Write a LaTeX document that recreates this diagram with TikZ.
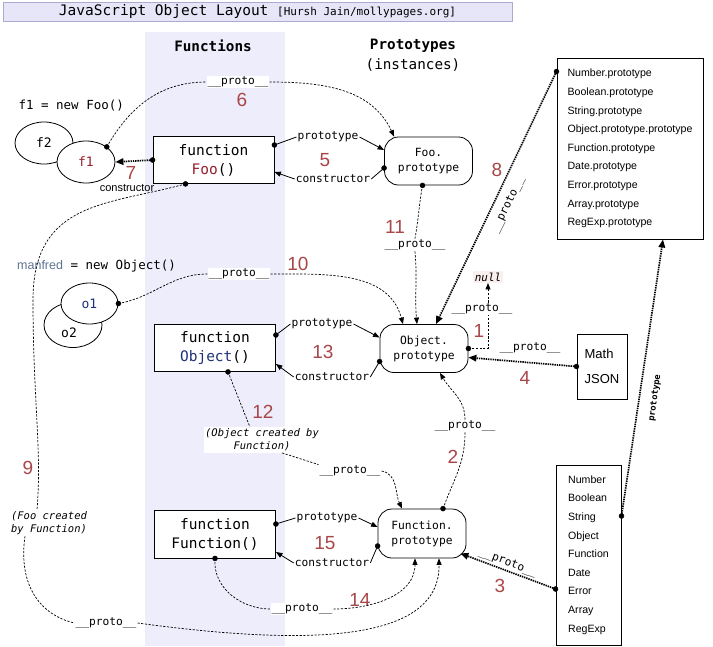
\documentclass[tikz,border=0pt]{standalone}
\usepackage{fontspec}
\setmainfont{Liberation Sans}
\setsansfont{Liberation Sans}
\setmonofont{DejaVu Sans Mono}
\usepackage{tikz}
\usetikzlibrary{arrows.meta}
\usetikzlibrary{shapes.geometric}

\definecolor{numred}{RGB}{168,70,72}
\definecolor{fooRed}{RGB}{150,30,45}
\definecolor{objBlue}{RGB}{30,50,120}
\definecolor{manfred}{RGB}{95,115,145}
\definecolor{colbg}{RGB}{237,237,251}
\definecolor{titlebg}{RGB}{230,230,248}
\definecolor{titleline}{RGB}{170,170,210}
\definecolor{nullbg}{RGB}{250,238,238}

\newcommand{\fsz}[2]{\fontsize{#1}{#2}\selectfont}
\newcommand{\proto}{\_\_proto\_\_}

\begin{document}
\begin{tikzpicture}[>={Triangle[length=6.5pt,width=5pt]},x=1pt,y=1pt,
  fnbox/.style={draw,fill=white,line width=0.8pt,minimum width=121pt,minimum height=47pt,align=center,font=\ttfamily\fsz{14.5}{19}},
  protobox/.style={draw,fill=white,line width=0.8pt,rounded corners=14pt,minimum width=88pt,minimum height=48pt,align=center,font=\ttfamily\fsz{11.3}{15}},
  listbox/.style={draw,fill=white,line width=1pt,align=left,font=\sffamily\fsz{10.6}{18.6}},
  obj/.style={ellipse,draw,fill=white,line width=0.8pt,minimum width=58pt,minimum height=42pt,inner sep=0pt,font=\ttfamily\fsz{13}{13}},
  lab/.style={fill=white,inner sep=1pt,font=\ttfamily\fsz{11.2}{13}},
  note/.style={fill=white,inner sep=1.5pt,align=center,font=\ttfamily\itshape\fsz{10.5}{13}},
  num/.style={text=numred,font=\sffamily\fsz{19}{19}},
  link/.style={line width=0.7pt,dash pattern=on 2.2pt off 1.5pt},
  heavy/.style={line width=1.7pt,dash pattern=on 1.4pt off 0.9pt,>={Triangle[length=8pt,width=6.5pt]}},
  plain/.style={line width=0.8pt}]
\useasboundingbox (0,0) rectangle (713,-646);
%\draw[help lines] (0,0) grid (713,-646);
\fill[colbg] (145,-32) rectangle (285,-646);
\node[draw=titleline,fill=titlebg,minimum width=509pt,minimum height=19pt,inner sep=0pt,font=\ttfamily\fsz{14.5}{16}] (title) at (257.5,-11.5) {JavaScript Object Layout {\fsz{11}{13}[Hursh Jain/mollypages.org]}};
\node[font=\ttfamily\bfseries\fsz{14.3}{18}] (hfun) at (213,-46) {Functions};
\node[font=\ttfamily\bfseries\fsz{14.3}{18}] (hproto) at (413,-46) {Prototypes};
\node[font=\ttfamily\fsz{14.3}{18}] (hinst) at (413,-65) {(instances)};

% objects made with new
\node[anchor=west,font=\ttfamily\fsz{12.5}{14}] (newfoo) at (15,-106) {f1 = new Foo()};
\node[obj] (f2) at (44,-143) {f2};
\node[obj,text=fooRed] (f1) at (86,-162) {f1};
\node[anchor=west,inner sep=0pt,font=\ttfamily\fsz{12.5}{14}] (newobj) at (17,-266) {\textcolor{manfred}{\sffamily manfred} = new Object()};
\node[obj,minimum height=45pt] (o2) at (73,-325) {};
\node[font=\ttfamily\fsz{13}{13}] (o2t) at (69,-333) {o2};
\node[obj,minimum width=57pt,minimum height=41pt,text=objBlue] (o1) at (89.5,-303.5) {o1};

% functions and prototypes
\node[fnbox] (foo) at (213.5,-160) {function\\\textcolor{fooRed}{Foo}()};
\node[protobox] (fooP) at (428.5,-161) {Foo.\\prototype};
\node[fnbox] (obj) at (215,-348) {function\\\textcolor{objBlue}{Object}()};
\node[protobox] (objP) at (424,-348.5) {Object.\\prototype};
\node[fnbox,minimum height=48pt] (fun) at (215,-534) {function\\Function()};
\node[protobox,minimum height=49pt] (funP) at (422,-533.5) {Function.\\prototype};

% built-ins
\node[listbox,minimum width=146pt,minimum height=181pt] (protos) at (630,-148.5) {Number.prototype\\Boolean.prototype\\String.prototype\\Object.prototype.prototype\\Function.prototype\\Date.prototype\\Error.prototype\\Array.prototype\\RegExp.prototype};
\node[listbox,minimum width=65pt,minimum height=180pt] (ctors) at (588.5,-555) {Number\\Boolean\\String\\Object\\Function\\Date\\Error\\Array\\RegExp};
\node[listbox,font=\sffamily\fsz{13}{25},minimum width=50pt,minimum height=65pt] (math) at (602,-366.5) {Math\\JSON};
\node[fill=nullbg,inner sep=1.5pt,font=\ttfamily\itshape\fsz{11}{13}] (null) at (488,-277) {null};

% labels
\node[num] (n7) at (131,-173) {7};
\node[font=\sffamily\fsz{11}{12}] (c7) at (127,-188) {constructor};
\node[lab] (p6) at (238,-82) {\proto};
\node[num] (n6) at (242,-100) {6};
\node[lab] (lp5) at (328,-137) {prototype};
\node[lab] (lc5) at (333,-179) {constructor};
\node[num] (n5) at (325,-160) {5};
\node[lab] (p11) at (415,-245) {\proto};
\node[num] (n11) at (395,-227) {11};
\node[lab,rotate=64] (p8) at (508,-205) {\proto};
\node[num] (n8) at (497,-170) {8};
\node[lab] (p10) at (239,-274) {\proto};
\node[num] (n10) at (298,-264) {10};
\node[lab] (p1) at (482,-309) {\proto};
\node[num] (n1) at (479,-331) {1};
\node[lab] (p4) at (530,-348) {\proto};
\node[num] (n4) at (525,-378) {4};
\node[lab] (lp13) at (322,-324) {prototype};
\node[lab] (lc13) at (332,-377) {constructor};
\node[num] (n13) at (323,-352) {13};
\node[note] (ocby) at (262,-440) {(Object created by\\Function)};
\node[num] (n12) at (263,-412) {12};
\node[lab] (p12) at (350,-471) {\proto};
\node[lab] (p2) at (465,-426) {\proto};
\node[num] (n2) at (453,-457) {2};
\node[lab] (lp15) at (327,-518) {prototype};
\node[lab] (lc15) at (332,-563) {constructor};
\node[num] (n15) at (325,-543) {15};
\node[lab] (p14) at (302,-609) {\proto};
\node[num] (n14) at (360,-600) {14};
\node[lab,rotate=-21] (p3) at (508,-563) {\proto};
\node[num] (n3) at (500,-586) {3};
\node[note,align=left] (fcby) at (49,-523) {(Foo created\\by Function)};
\node[num] (n9) at (28,-468) {9};
\node[lab] (p9) at (106,-623) {\proto};
\node[lab,rotate=82,font=\ttfamily\bfseries\fsz{8.7}{10}] (lpr) at (655,-398) {prototype};

% dot ends
\coordinate (fooR) at ([yshift=15pt]foo.east);
\coordinate (fooB) at ([xshift=-28pt]foo.south);
\coordinate (fooPc) at ([yshift=-7pt]fooP.west);
\coordinate (fooPb) at ([xshift=-6pt]fooP.south);
\coordinate (objR) at ([yshift=13pt]obj.east);
\coordinate (objB) at ([xshift=13pt]obj.south);
\coordinate (objPc) at ([yshift=-13pt]objP.west);
\coordinate (funR) at ([yshift=10pt]fun.east);
\coordinate (funPc) at ([yshift=-12.5pt]funP.west);
\coordinate (funPt) at ([xshift=21pt]funP.north);
\coordinate (protosL) at ([yshift=-14pt]protos.north west);
\coordinate (ctorsL) at ([yshift=-34pt]ctors.west);
\coordinate (ctorsR) at ([yshift=39pt]ctors.east);

% prototype / constructor
\draw[plain] (fooR) -- (lp5.west);
\draw[plain,->] (lp5.east) -- ([yshift=11pt]fooP.west);
\draw[plain] (fooPc) -- (lc5.east);
\draw[plain,->] (lc5.west) -- ([yshift=-12pt]foo.east);
\draw[plain] (objR) -- (lp13.west);
\draw[plain,->] (lp13.east) -- ([yshift=11pt]objP.west);
\draw[plain] (objPc) -- (lc13.east);
\draw[plain,->] (lc13.west) -- ([yshift=-16pt]obj.east);
\draw[plain] (funR) -- (lp15.west);
\draw[plain,->] (lp15.east) -- ([yshift=6.5pt]funP.west);
\draw[plain] (funPc) -- (lc15.east);
\draw[plain,->] (lc15.west) -- ([yshift=-18pt]fun.east);

% __proto__ chains
\draw[heavy,->] (foo.west) -- (f1.east);
\draw[link,->] (f1.north east) to[out=60,in=180] (p6.west) (p6.east) to[out=0,in=115] ([xshift=10pt]fooP.north west);
\draw[link] (fooPb) to[out=-100,in=80] (p11.north);
\draw[link,->] (p11.south) to[out=-85,in=95] ([xshift=-7pt]objP.north);
\draw[heavy,->] (protosL) -- ([xshift=12pt]objP.north);
\draw[link] (o1.east) to[out=10,in=180] (p10.west);
\draw[link,->] (p10.east) to[out=0,in=105] ([xshift=-21pt]objP.north);
\draw[link] (objP.east) -| (p1.south -| null.south);
\draw[link,->] (p1.north -| null.south) -- (null.south);
\draw[heavy,->] (math.west) -- ([yshift=-9pt]objP.east);
\draw[link] (funPt) to[out=70,in=-90] (p2.south);
\draw[link,->] (p2.north) to[out=90,in=-60] ([xshift=16pt]objP.south);
\draw[link] (objB) -- ([xshift=-12pt]ocby.north);
\draw[link] ([xshift=20pt]ocby.south) -- (p12.north west);
\draw[link,->] (p12.east) to[out=-10,in=115] ([xshift=-20pt]funP.north);
\draw[link] (fun.south) to[out=-95,in=180] (p14.west);
\draw[link,->] (p14.east) to[out=0,in=-90] ([xshift=-7pt]funP.south);
\draw[link] (fooB) .. controls (110,-205) and (33,-200) .. (33,-300) .. controls (33,-400) and (42,-450) .. ([xshift=-12pt]fcby.north);
\draw[link] ([xshift=-24pt]fcby.south) .. controls (18,-585) and (40,-615) .. (p9.west);
\draw[link,->] (p9.east) .. controls (300,-645) and (440,-645) .. ([xshift=17pt]funP.south);
\draw[heavy,->] (ctorsL) -- ([xshift=-6pt,yshift=5pt]funP.south east);
\draw[heavy,->] (ctorsR) -- ([xshift=33pt]protos.south);

\draw [fill=black] (foo.west) circle (2.5pt);
\draw [fill=black] (fooR) circle (2.5pt);
\draw [fill=black] (fooB) circle (2.5pt);
\draw [fill=black] (fooPc) circle (2.5pt);
\draw [fill=black] (fooPb) circle (2.5pt);
\draw [fill=black] (f1.north east) circle (2.5pt);
\draw [fill=black] (o1.east) circle (2.5pt);
\draw [fill=black] (objR) circle (2.5pt);
\draw [fill=black] (objB) circle (2.5pt);
\draw [fill=black] (objPc) circle (2.5pt);
\draw [fill=black] (objP.east) circle (2.5pt);
\draw [fill=black] (funR) circle (2.5pt);
\draw [fill=black] (fun.south) circle (2.5pt);
\draw [fill=black] (funPc) circle (2.5pt);
\draw [fill=black] (funPt) circle (2.5pt);
\draw [fill=black] (protosL) circle (2.5pt);
\draw [fill=black] (math.west) circle (2.5pt);
\draw [fill=black] (ctorsL) circle (2.5pt);
\draw [fill=black] (ctorsR) circle (2.5pt);
\end{tikzpicture}
\end{document}
